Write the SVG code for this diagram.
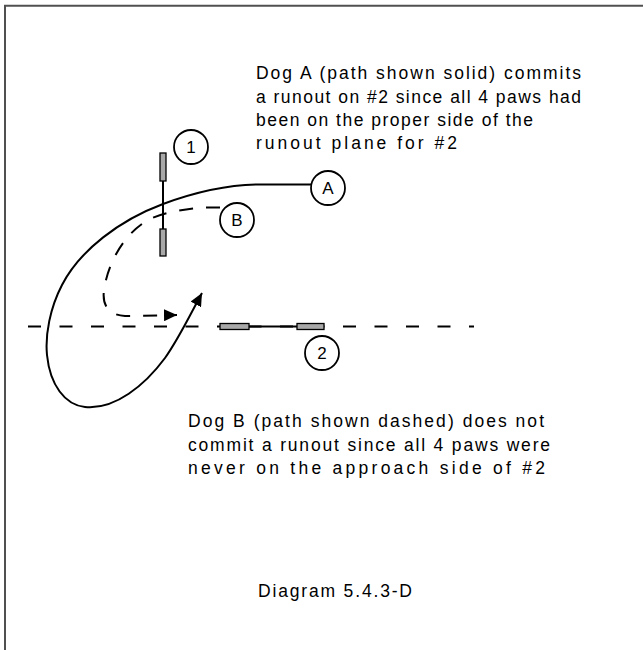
<svg xmlns="http://www.w3.org/2000/svg" width="643" height="650" viewBox="0 0 643 650">
<defs>
<style>
.txt{font-family:"Liberation Sans",Arial,sans-serif;font-size:17.5px;fill:#000}
.lbl{font-family:"Liberation Sans",Arial,sans-serif;font-size:17px;fill:#000;text-anchor:middle}
.ring{fill:#fff;stroke:#000;stroke-width:1.8}
.bar{fill:#a8a8a8;stroke:#000;stroke-width:1.3}
.solid{fill:none;stroke:#000;stroke-width:2}
.dash{fill:none;stroke:#000;stroke-width:2;stroke-dasharray:14 13}
</style>
<marker id="ah" markerUnits="userSpaceOnUse" markerWidth="14" markerHeight="12" refX="13" refY="6" orient="auto">
<path d="M0,0 L13,6 L0,12 Z" fill="#000"/>
</marker>
</defs>
<rect width="643" height="650" fill="#fff"/>
<g id="frame">
<line x1="4" y1="5.8" x2="643" y2="5.8" stroke="#505050" stroke-width="2"/>
<line x1="5" y1="5" x2="5" y2="650" stroke="#505050" stroke-width="2"/>
</g>
<g id="connectors">
<path id="planeLine" d="M28,326.5 L474,326.5" fill="none" stroke="#000" stroke-width="2" stroke-dasharray="13 18.5"/>
<path id="pathA" class="solid" d="M311,184.5 L257,184.5 C225,185 190,194 163,204 C120,220 80,250 62,285 C50,308 45,335 47,355 C50,385 65,405 85,407 C115,410 145,385 165,358 C178,340 190,315 202,293" marker-end="url(#ah)"/>
<path id="pathB" class="dash" d="M220,207.5 L205,207.5 C190,208 165,212 150,219 C125,232 108,262 104,290 C102,305 108,315 125,316 L177,315" marker-end="url(#ah)"/>
</g>
<g id="jump1">
<line x1="163" y1="181" x2="163" y2="229" stroke="#000" stroke-width="2"/>
<rect class="bar" x="160" y="153" width="6" height="28"/>
<rect class="bar" x="160" y="229" width="6" height="27"/>
</g>
<g id="jump2">
<line x1="249" y1="326.5" x2="297" y2="326.5" stroke="#000" stroke-width="2"/>
<rect class="bar" x="220" y="323.5" width="29" height="6"/>
<rect class="bar" x="297" y="323.5" width="27" height="6"/>
</g>
<g id="label1"><circle class="ring" cx="191" cy="147" r="17"/><text class="lbl" x="191" y="153">1</text></g>
<g id="label2"><circle class="ring" cx="322" cy="353" r="17"/><text class="lbl" x="322" y="359">2</text></g>
<g id="labelA"><circle class="ring" cx="328" cy="188" r="17"/><text class="lbl" x="328" y="194">A</text></g>
<g id="labelB"><circle class="ring" cx="237" cy="220" r="17"/><text class="lbl" x="237" y="226">B</text></g>
<g id="noteA">
<text class="txt" x="256" y="79" textLength="325" lengthAdjust="spacing">Dog A (path shown solid) commits</text>
<text class="txt" x="256" y="102.5" textLength="325" lengthAdjust="spacing">a runout on #2 since all 4 paws had</text>
<text class="txt" x="256" y="125.5" textLength="277" lengthAdjust="spacing">been on the proper side of the</text>
<text class="txt" x="256" y="148.5" textLength="201" lengthAdjust="spacing">runout plane for #2</text>
</g>
<g id="noteB">
<text class="txt" x="188" y="427" textLength="356" lengthAdjust="spacing">Dog B (path shown dashed) does not</text>
<text class="txt" x="188" y="450.5" textLength="362" lengthAdjust="spacing">commit a runout since all 4 paws were</text>
<text class="txt" x="188" y="474" textLength="357" lengthAdjust="spacing">never on the approach side of #2</text>
</g>
<g id="caption">
<text class="txt" x="258" y="597" textLength="154" lengthAdjust="spacing">Diagram 5.4.3-D</text>
</g>
</svg>
